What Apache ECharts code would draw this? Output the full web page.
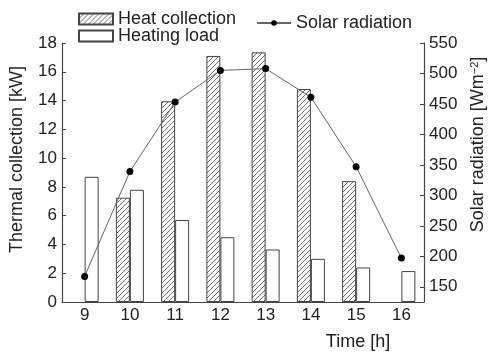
<!DOCTYPE html>
<html>
<head>
<meta charset="utf-8">
<script src="https://cdn.jsdelivr.net/npm/echarts@6/dist/echarts.min.js"></script>
<style>
html,body{margin:0;padding:0;background:#fff;}
#chart{width:489px;height:352px;}
</style>
</head>
<body>
<div id="chart"></div>
<script>
// Data
var hours = ['9', '10', '11', '12', '13', '14', '15', '16'];
var heatCollection = [null, 7.25, 13.95, 17.1, 17.35, 14.8, 8.4, null];
var heatingLoad = [8.7, 7.8, 5.7, 4.5, 3.65, 3.0, 2.4, 2.15];
var solarRadiation = [167, 339, 453, 505, 508, 461, 347, 197];
var leftTicks = [0, 2, 4, 6, 8, 10, 12, 14, 16, 18];
var rightTicks = [150, 200, 250, 300, 350, 400, 450, 500, 550];

// Hatch pattern
var pc = document.createElement('canvas');
pc.width = 5; pc.height = 5;
var ctx = pc.getContext('2d');
ctx.fillStyle = '#ffffff';
ctx.fillRect(0, 0, 5, 5);
ctx.strokeStyle = '#707070';
ctx.lineWidth = 1;
ctx.beginPath();
ctx.moveTo(0, 5); ctx.lineTo(5, 0);
ctx.moveTo(-1, 1); ctx.lineTo(1, -1);
ctx.moveTo(4, 6); ctx.lineTo(6, 4);
ctx.stroke();

var FONT = '"Liberation Sans", Arial, sans-serif';
var axisColor = '#444';
var chart = echarts.init(document.getElementById('chart'), null, {renderer: 'canvas'});
chart.setOption({
  animation: false,
  backgroundColor: '#fff',
  textStyle: {fontFamily: FONT, color: '#222'},
  grid: {left: 62, right: 65, top: 43, bottom: 50, containLabel: false, outerBoundsMode: 'none'},
  legend: [
    {
      data: [{name: 'Heat collection', icon: 'rect'}, {name: 'Heating load', icon: 'rect'}],
      orient: 'vertical',
      left: 73, top: 5,
      itemWidth: 34, itemHeight: 11,
      itemGap: -1,
      textStyle: {fontFamily: FONT, fontSize: 18, color: '#222', lineHeight: 17}
    },
    {
      data: ['Solar radiation'],
      left: 251, top: 9,
      itemWidth: 34, itemHeight: 7,
      textStyle: {fontFamily: FONT, fontSize: 18, color: '#222'}
    }
  ],
  xAxis: {
    type: 'category',
    data: hours,
    boundaryGap: true,
    name: 'Time [h]',
    nameLocation: 'middle',
    nameGap: 31,
    nameTextStyle: {fontFamily: FONT, fontSize: 18, color: '#222', padding: [0, 0, 0, 230]},
    axisLine: {lineStyle: {color: axisColor, width: 1.2}},
    axisTick: {show: false},
    axisLabel: {fontFamily: FONT, fontSize: 17, color: '#222', margin: 5}
  },
  yAxis: [
    {
      type: 'value',
      min: 0, max: 18, interval: 2,
      name: 'Thermal collection [kW]',
      nameLocation: 'middle',
      nameGap: 36,
      nameTextStyle: {fontFamily: FONT, fontSize: 18, color: '#222', padding: [0, 0, 0, 26]},
      axisLine: {show: true, lineStyle: {color: axisColor, width: 1.2}},
      axisTick: {show: true, inside: true, length: 4, lineStyle: {color: axisColor}},
      axisLabel: {fontFamily: FONT, fontSize: 17, color: '#222', margin: 5},
      splitLine: {show: false}
    },
    {
      type: 'value',
      min: 125, max: 550,
      name: 'Solar radiation [Wm{sup|−2}]',
      nameLocation: 'middle',
      nameGap: 45,
      nameTextStyle: {fontFamily: FONT, fontSize: 18, color: '#222', padding: [0, 0, 0, 56],
        rich: {sup: {fontFamily: FONT, fontSize: 11, color: '#222', verticalAlign: 'top', padding: [0, 0, 6, 0]}}},
      axisLine: {show: true, lineStyle: {color: axisColor, width: 1.2}},
      axisTick: {show: true, inside: true, length: 4, lineStyle: {color: axisColor}, customValues: rightTicks},
      axisLabel: {fontFamily: FONT, fontSize: 17, color: '#222', margin: 5, customValues: rightTicks},
      splitLine: {show: false}
    }
  ],
  series: [
    {
      name: 'Heat collection',
      type: 'bar',
      data: heatCollection,
      barWidth: 14,
      barGap: '0%',
      itemStyle: {color: {image: pc, repeat: 'repeat'}, borderColor: '#444', borderWidth: 1}
    },
    {
      name: 'Heating load',
      type: 'bar',
      data: heatingLoad,
      barWidth: 14,
      barGap: '0%',
      itemStyle: {color: '#fff', borderColor: '#444', borderWidth: 1}
    },
    {
      name: 'Solar radiation',
      type: 'line',
      yAxisIndex: 1,
      data: solarRadiation,
      symbol: 'circle',
      symbolSize: 7,
      z: 5,
      itemStyle: {color: '#000'},
      lineStyle: {color: '#666', width: 1}
    }
  ]
});
</script>
</body>
</html>
